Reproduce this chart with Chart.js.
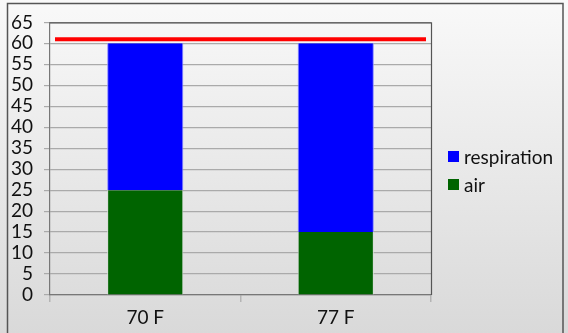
<!DOCTYPE html>
<html><head><meta charset="utf-8">
<script src="https://cdn.jsdelivr.net/npm/chart.js@4/dist/chart.umd.min.js"></script>
<style>
html,body{margin:0;padding:0;background:#fff;}
#wrap{position:relative;width:568px;height:333px;}
#legend{position:absolute;left:448px;top:142px;font-family:Lato,"Open Sans",sans-serif;font-size:19px;color:#111;}
.item{display:flex;align-items:center;height:28px;}
.sw{width:11px;height:11px;margin-right:5px;}
</style></head><body>
<div id="wrap"><canvas id="c" width="568" height="333"></canvas><div id="legend"></div></div>
<script>
// Stacked CO2 sources at two temperatures, with a reference level line
const categories = ['70 F', '77 F'];
const airValues = [25, 15];
const respirationValues = [35, 45];
const referenceLevel = [61];
const yMin = 0, yMax = 65, yStep = 5;

const FONT = 'Lato, "Open Sans", sans-serif';

// Frame and background gradient behind everything
const framePlugin = {
  id: 'frame',
  beforeDraw(chart) {
    const ctx = chart.ctx, w = chart.width, h = chart.height;
    ctx.save();
    const g = ctx.createLinearGradient(0, 0, 0, h);
    g.addColorStop(0, '#f9f9f9');
    g.addColorStop(1, '#d9d9d9');
    ctx.fillStyle = g;
    ctx.fillRect(0, 0, w, h);
    ctx.strokeStyle = '#555';
    ctx.lineWidth = 1.5;
    ctx.strokeRect(7.5, 3.5, w - 12.5, h + 10);
    ctx.restore();
  },
  afterDatasetsDraw(chart) {
    const ctx = chart.ctx, a = chart.chartArea, y = chart.scales.y;
    ctx.save();
    // plot box top / right edges
    ctx.strokeStyle = '#555';
    ctx.lineWidth = 1.2;
    ctx.beginPath();
    ctx.moveTo(a.left, a.top + 0.5);
    ctx.lineTo(a.right + 0.5, a.top + 0.5);
    ctx.lineTo(a.right + 0.5, a.bottom);
    ctx.stroke();
    // reference level line
    referenceLevel.forEach(v => {
      const py = y.getPixelForValue(v);
      ctx.strokeStyle = '#ff0000';
      ctx.lineWidth = 4;
      ctx.beginPath();
      ctx.moveTo(a.left + 5, py);
      ctx.lineTo(a.right - 5, py);
      ctx.stroke();
    });
    ctx.restore();
  }
};

const datasets = [
  { label: 'air', data: airValues, backgroundColor: '#006400', borderColor: '#d8dcd8', borderWidth: {left:1,right:1,top:0,bottom:0} },
  { label: 'respiration', data: respirationValues, backgroundColor: '#0000ff', borderColor: '#8c8cff', borderWidth: {left:1,right:1,top:0,bottom:0} }
];

const chart = new Chart(document.getElementById('c'), {
  type: 'bar',
  data: { labels: categories, datasets },
  options: {
    responsive: false,
    animation: false,
    devicePixelRatio: 1,
    layout: { padding: { left: 0, right: 137, top: 20, bottom: 0 } },
    plugins: { legend: { display: false }, tooltip: { enabled: false } },
    datasets: { bar: { categoryPercentage: 1, barPercentage: 0.4 } },
    scales: {
      x: {
        stacked: true,
        afterFit(s) { s.height = 38; },
        grid: { offset: true, drawOnChartArea: false, drawTicks: true, tickLength: 7, color: '#b4b4b4', lineWidth: 1.5 },
        border: { color: '#777', width: 1.2 },
        ticks: { color: '#111', font: { family: FONT, size: 19 }, padding: 4, autoSkip: false, maxRotation: 0 }
      },
      y: {
        stacked: true,
        min: yMin, max: yMax,
        afterFit(s) { s.width = 50; },
        grid: { color: '#aaa', lineWidth: 1.2, tickLength: 6, drawTicks: true },
        border: { color: '#777', width: 1.2 },
        ticks: { stepSize: yStep, color: '#111', font: { family: FONT, size: 19 }, padding: 11, autoSkip: false }
      }
    }
  },
  plugins: [framePlugin]
});

// Legend, top entry first
const legend = document.getElementById('legend');
datasets.slice().reverse().forEach(ds => {
  const it = document.createElement('div');
  it.className = 'item';
  const sw = document.createElement('span');
  sw.className = 'sw';
  sw.style.background = ds.backgroundColor;
  const tx = document.createElement('span');
  tx.textContent = ds.label;
  it.appendChild(sw); it.appendChild(tx);
  legend.appendChild(it);
});
</script>
</body></html>
